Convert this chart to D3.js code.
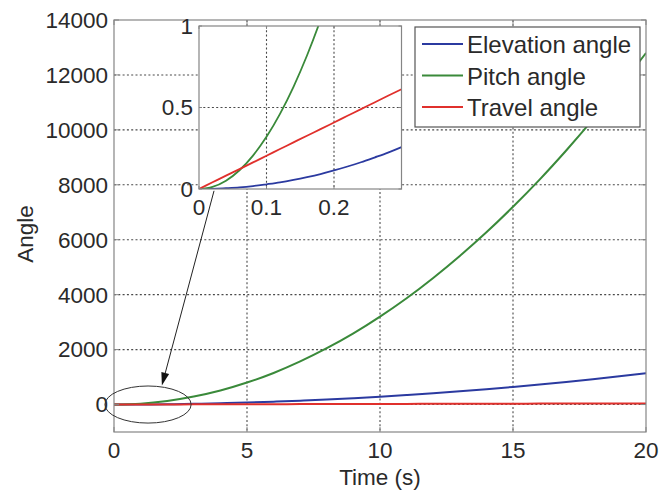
<!DOCTYPE html>
<html><head><meta charset="utf-8">
<script src="https://cdn.jsdelivr.net/npm/d3@7"></script>
<style>body{margin:0;background:#fff}svg{display:block}text{font-family:"Liberation Sans",Arial,sans-serif}</style>
</head><body><svg id="c" width="659" height="491"></svg>
<script>
// ---------- data ----------
const seriesNames = ["Elevation angle", "Pitch angle", "Travel angle"];
const seriesColors = ["#2b3aa0", "#3a8a3a", "#e0302c"];
const mainTime = [0,1,2,3,4,5,6,7,8,9,10,11,12,13,14,15,16,17,18,19,20];
const mainElevation = [0,3,11,26,46,71,103,140,182,231,285,345,410,482,559,641,730,824,923,1029,1140];
const mainPitch = [0,32,130,290,510,800,1150,1570,2050,2590,3200,3870,4610,5410,6270,7200,8190,9250,10370,11550,12800];
const mainTravel = [0,2,4,6,8,10,13,15,17,19,21,23,25,27,29,31,34,36,38,40,42];
const insetTime = [0,0.02,0.04,0.06,0.08,0.10,0.12,0.14,0.16,0.18,0.20,0.22,0.24,0.26,0.28,0.30];
const insetElevation = [0,0.001,0.005,0.010,0.018,0.029,0.041,0.056,0.073,0.092,0.114,0.138,0.164,0.193,0.223,0.257];
const insetPitch = [0,0.013,0.051,0.115,0.205,0.32,0.461,0.627,0.819,1.037,1.28,1.55,1.84,2.16,2.5,2.88];
const insetTravel = [0,0.041,0.082,0.122,0.163,0.204,0.245,0.286,0.327,0.367,0.408,0.449,0.490,0.531,0.572,0.612];
const mainXTicks = [0,5,10,15,20];
const mainYTicks = [0,2000,4000,6000,8000,10000,12000,14000];
const insetXTicks = [0,0.1,0.2];
const insetYTicks = [0,0.5,1];
const xLabel = "Time (s)";
const yLabel = "Angle";
// annotation (data units of the main axes)
const ellipseCenter = [1.28, 0]; const ellipseRadii = [1.62, 675];
const arrowFrom = [3.76, 7780]; const arrowTo = [1.80, 690];

// ---------- drawing ----------
const svg = d3.select("#c");
svg.append("rect").attr("width",659).attr("height",491).attr("fill","#fff");
const FONT = 22.5, TXT = "#2a2a2a", BOX = "#858585", GRID = "#4a4a4a", DASH = "2,2.3";

const x = d3.scaleLinear().domain([0,20]).range([114,646]);
const y = d3.scaleLinear().domain([-1000,14000]).range([432,20]);

const defs = svg.append("defs");
defs.append("clipPath").attr("id","mainClip").append("rect")
  .attr("x",114).attr("y",20).attr("width",532).attr("height",412);

// grid
const g = svg.append("g");
g.selectAll(".gx").data(mainXTicks.filter(t=>t>0&&t<20)).join("line")
  .attr("x1",d=>x(d)).attr("x2",d=>x(d)).attr("y1",20).attr("y2",432)
  .attr("stroke",GRID).attr("stroke-dasharray",DASH).attr("stroke-width",1.1);
g.selectAll(".gy").data(mainYTicks.filter(t=>t<14000)).join("line")
  .attr("y1",d=>y(d)).attr("y2",d=>y(d)).attr("x1",114).attr("x2",646)
  .attr("stroke",GRID).attr("stroke-dasharray",DASH).attr("stroke-width",1.1);

// lines
const mainSeries = [mainElevation, mainPitch, mainTravel];
const line = d3.line().x((d,i)=>x(mainTime[i])).y(d=>y(d)).curve(d3.curveMonotoneX);
const lg = svg.append("g").attr("clip-path","url(#mainClip)");
mainSeries.forEach((s,k)=>{
  lg.append("path").attr("d",line(s)).attr("fill","none")
    .attr("stroke",seriesColors[k]).attr("stroke-width",2);
});

// axes box + ticks
function boxAxes(parent, xs, ys, xt, yt, tl, fx, fy, xlabDy, ylabDx){
  const [x0,x1] = xs.range(), [y0,y1] = ys.range();
  parent.append("rect").attr("x",x0).attr("y",y1).attr("width",x1-x0).attr("height",y0-y1)
    .attr("fill","none").attr("stroke",BOX).attr("stroke-width",1.2);
  const tg = parent.append("g").attr("stroke",BOX).attr("stroke-width",1);
  xt.forEach(t=>{
    tg.append("line").attr("x1",xs(t)).attr("x2",xs(t)).attr("y1",y0).attr("y2",y0-tl);
    tg.append("line").attr("x1",xs(t)).attr("x2",xs(t)).attr("y1",y1).attr("y2",y1+tl);
  });
  yt.forEach(t=>{
    tg.append("line").attr("y1",ys(t)).attr("y2",ys(t)).attr("x1",x0).attr("x2",x0+tl);
    tg.append("line").attr("y1",ys(t)).attr("y2",ys(t)).attr("x1",x1).attr("x2",x1-tl);
  });
  parent.selectAll(null).data(xt).join("text")
    .attr("x",d=>xs(d)).attr("y",y0+xlabDy).attr("text-anchor","middle")
    .attr("font-size",FONT).attr("fill",TXT).text(fx);
  parent.selectAll(null).data(yt).join("text")
    .attr("x",x0-ylabDx).attr("y",d=>ys(d)).attr("dy","0.35em").attr("text-anchor","end")
    .attr("font-size",FONT).attr("fill",TXT).text(fy);
}
boxAxes(svg.append("g"), x, y, mainXTicks, mainYTicks, 5, d=>d, d=>d, 26, 6);

svg.append("text").attr("x",(x(0)+x(20))/2).attr("y",485).attr("text-anchor","middle")
  .attr("font-size",FONT).attr("fill",TXT).text(xLabel);
svg.append("text").attr("transform",`translate(33,${(y(-1000)+y(14000))/2+8}) rotate(-90)`)
  .attr("text-anchor","middle").attr("font-size",FONT).attr("fill",TXT).text(yLabel);

// ellipse + arrow
svg.append("ellipse").attr("cx",x(ellipseCenter[0])).attr("cy",y(ellipseCenter[1]))
  .attr("rx",x(ellipseRadii[0])-x(0)).attr("ry",y(0)-y(ellipseRadii[1]))
  .attr("fill","none").attr("stroke","#333").attr("stroke-width",1);
{
  const ax0=x(arrowFrom[0]), ay0=y(arrowFrom[1]), ax1=x(arrowTo[0]), ay1=y(arrowTo[1]);
  const dx=ax1-ax0, dy=ay1-ay0, L=Math.hypot(dx,dy), ux=dx/L, uy=dy/L;
  const hl=13, hw=4;
  const bx=ax1-ux*hl, by=ay1-uy*hl;
  svg.append("line").attr("x1",ax0).attr("y1",ay0).attr("x2",bx).attr("y2",by)
    .attr("stroke","#222").attr("stroke-width",1);
  svg.append("path").attr("d",`M${ax1},${ay1}L${bx-uy*hw},${by+ux*hw}L${bx+uy*hw},${by-ux*hw}Z`)
    .attr("fill","#111");
}

// inset
const xi = d3.scaleLinear().domain([0,0.3]).range([199,401.5]);
const yi = d3.scaleLinear().domain([0,1]).range([189,26]);
const ig = svg.append("g");
ig.append("rect").attr("x",199).attr("y",26).attr("width",202.5).attr("height",163).attr("fill","#fff");
defs.append("clipPath").attr("id","insetClip").append("rect")
  .attr("x",199).attr("y",26).attr("width",202.5).attr("height",163);
ig.selectAll(".igx").data(insetXTicks.filter(t=>t>0)).join("line")
  .attr("x1",d=>xi(d)).attr("x2",d=>xi(d)).attr("y1",26).attr("y2",189)
  .attr("stroke",GRID).attr("stroke-dasharray",DASH).attr("stroke-width",1.1);
ig.selectAll(".igy").data([0.5]).join("line")
  .attr("y1",d=>yi(d)).attr("y2",d=>yi(d)).attr("x1",199).attr("x2",401.5)
  .attr("stroke",GRID).attr("stroke-dasharray",DASH).attr("stroke-width",1.1);
const insetSeries = [insetElevation, insetPitch, insetTravel];
const iline = d3.line().x((d,i)=>xi(insetTime[i])).y(d=>yi(d)).curve(d3.curveMonotoneX);
const ilg = ig.append("g").attr("clip-path","url(#insetClip)");
insetSeries.forEach((s,k)=>{
  ilg.append("path").attr("d",iline(s)).attr("fill","none")
    .attr("stroke",seriesColors[k]).attr("stroke-width",1.8);
});
boxAxes(ig, xi, yi, insetXTicks, insetYTicks, 3, d=>d, d=>d, 26, 6);

// legend
const leg = svg.append("g");
leg.append("rect").attr("x",415).attr("y",27).attr("width",225).attr("height",100)
  .attr("fill","#fff").attr("stroke","#555").attr("stroke-width",1.2);
seriesNames.forEach((n,k)=>{
  const ly = 44 + k*31.5;
  leg.append("line").attr("x1",422).attr("x2",463).attr("y1",ly).attr("y2",ly)
    .attr("stroke",seriesColors[k]).attr("stroke-width",1.8);
  leg.append("text").attr("x",467).attr("y",ly+9).attr("font-size",24).attr("fill",TXT).text(n);
});
</script></body></html>
